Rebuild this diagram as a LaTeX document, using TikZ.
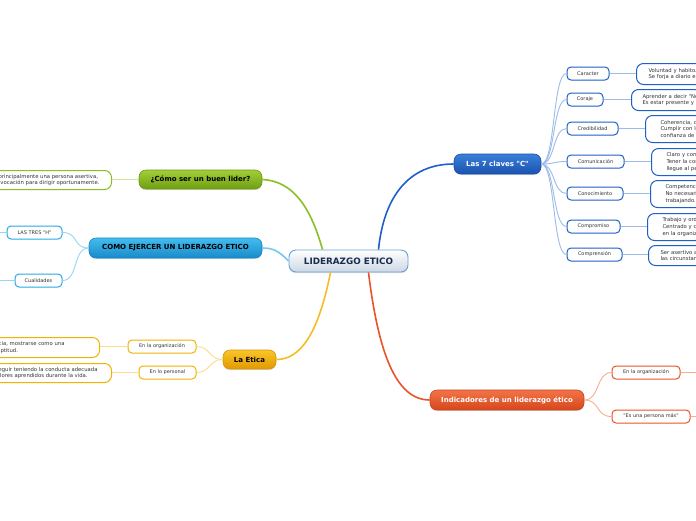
\documentclass[tikz,border=0pt]{standalone}
\usepackage{fontspec}
\setmainfont{DejaVu Sans}[Ligatures=TeXOff]
\usetikzlibrary{shadows}
\definecolor{txt}{HTML}{333333}
\definecolor{bT}{HTML}{3A80DA}\definecolor{bB}{HTML}{1A52AE}\definecolor{bD}{HTML}{1A4FA6}
\definecolor{bC}{HTML}{1F5FC8}\definecolor{bL}{HTML}{9BBCE8}
\definecolor{oT}{HTML}{F27448}\definecolor{oB}{HTML}{D6461C}\definecolor{oD}{HTML}{C9421A}
\definecolor{oC}{HTML}{E8542A}\definecolor{oL}{HTML}{F6AE92}
\definecolor{gT}{HTML}{A2CF38}\definecolor{gB}{HTML}{6F9E12}\definecolor{gD}{HTML}{6A9812}
\definecolor{gC}{HTML}{8CBF26}\definecolor{gL}{HTML}{CDE59A}
\definecolor{cT}{HTML}{42BCEF}\definecolor{cB}{HTML}{1A8ACA}\definecolor{cD}{HTML}{1884C0}
\definecolor{cC}{HTML}{2BA8E2}\definecolor{cL}{HTML}{96D6F4}
\definecolor{yT}{HTML}{F9C52A}\definecolor{yB}{HTML}{E09A00}\definecolor{yD}{HTML}{D69400}
\definecolor{yC}{HTML}{F2B200}\definecolor{yL}{HTML}{F9DE90}
\definecolor{ctrT}{HTML}{FFFFFF}\definecolor{ctrB}{HTML}{CCD7E4}\definecolor{ctrD}{HTML}{6AA0D8}
\definecolor{ctrX}{HTML}{1B2A4E}
\tikzset{
  mainbox/.style={rounded corners=7pt, font=\fontsize{7}{8}\selectfont\bfseries,
    minimum height=20pt, inner sep=0pt, line width=0.6pt,
    drop shadow={opacity=0.25, shadow xshift=0pt, shadow yshift=-1.2pt}},
  childbox/.style={rounded corners=4pt, draw, fill=white, line width=1pt,
    font=\fontsize{5}{6}\selectfont, text=txt, minimum height=13pt, inner sep=0pt},
  leafbox/.style={rounded corners=7pt, draw, fill=white, line width=1pt,
    font=\fontsize{5.3}{6.6}\selectfont, text=txt, inner ysep=0pt},
  trunk/.style={line width=1.6pt},
  twig/.style={line width=0.9pt},
}
\begin{document}
\begin{tikzpicture}[x=1pt,y=-1pt]
\useasboundingbox (0,0) rectangle (696,520);
\fill[white] (0,0) rectangle (696,520);
\clip (0,0) rectangle (696,520);

% ---------- nodes ----------
\node[mainbox, top color=ctrT, bottom color=ctrB, draw=ctrD, line width=0.9pt, text=ctrX,
  font=\fontsize{8.8}{10}\selectfont\bfseries, minimum width=119pt, minimum height=22pt] (c) at (348.5,261) {LIDERAZGO ETICO};

\node[mainbox, top color=bT, bottom color=bB, draw=bD, text=white, minimum width=87pt] (b) at (497.5,164) {Las 7 claves "C"};
\node[mainbox, top color=oT, bottom color=oB, draw=oD, text=white, minimum width=154pt] (o) at (507,400) {Indicadores de un liderazgo ético};
\node[mainbox, top color=gT, bottom color=gB, draw=gD, text=black, minimum width=123pt, minimum height=19pt] (g) at (200.5,179.5) {¿Cómo ser un buen lider?};
\node[mainbox, top color=cT, bottom color=cB, draw=cD, text=black, minimum width=173pt] (k) at (175.5,248) {COMO EJERCER UN LIDERAZGO ETICO};
\node[mainbox, top color=yT, bottom color=yB, draw=yD, text=black, minimum width=53pt, minimum height=19pt] (y) at (249.5,359.5) {La Etica};

% 7 C children
\node[childbox, draw=bC, minimum width=42pt] (b1) at (588,73.5) {Caracter};
\node[childbox, draw=bC, minimum width=36pt] (b2) at (585,99.5) {Coraje};
\node[childbox, draw=bC, minimum width=51pt] (b3) at (592.5,128.5) {Credibilidad};
\node[childbox, draw=bC, minimum width=57pt] (b4) at (595.5,161.5) {Comunicación};
\node[childbox, draw=bC, minimum width=56pt] (b5) at (595,193.5) {Conocimiento};
\node[childbox, draw=bC, minimum width=53pt] (b6) at (593.5,226.5) {Compromiso};
\node[childbox, draw=bC, minimum width=55pt] (b7) at (594.5,254.5) {Comprensión};

% 7 C leaves
\node[leafbox, draw=bC, anchor=north west, minimum height=21pt, text width=110pt, align=left, inner xsep=12pt] (l1) at (636,63) {Voluntad y habito.\\Se forja a diario en la vida.};
\node[leafbox, draw=bC, anchor=north west, minimum height=21pt, text width=110pt, align=left, inner xsep=11pt] (l2) at (631,89) {Aprender a decir "No".\\Es estar presente y actuar.};
\node[leafbox, draw=bC, anchor=north west, minimum height=27pt, text width=110pt, align=left, inner xsep=15pt] (l3) at (645,115) {Coherencia, confianza.\\Cumplir con lo prometido\\confianza de los demás.};
\node[leafbox, draw=bC, anchor=north west, minimum height=27pt, text width=110pt, align=left, inner xsep=15pt] (l4) at (651,148) {Claro y conciso.\\Tener la comunicación\\llegue al personal.};
\node[leafbox, draw=bC, anchor=north west, minimum height=27pt, text width=110pt, align=left, inner xsep=15pt] (l5) at (650,180) {Competencia.\\No necesariamente\\trabajando.};
\node[leafbox, draw=bC, anchor=north west, minimum height=27pt, text width=110pt, align=left, inner xsep=15pt] (l6) at (647,213) {Trabajo y orden.\\Centrado y comprometido\\en la organización.};
\node[leafbox, draw=bC, anchor=north west, minimum height=20pt, text width=110pt, align=left, inner xsep=12pt] (l7) at (648,245) {Ser asertivo ante\\las circunstancias.};

% Indicadores children
\node[childbox, draw=oC, minimum width=68pt] (o1) at (646,372.5) {En la organización};
\node[childbox, draw=oC, minimum width=78pt] (o2) at (651,416.5) {"Es una persona más"};
\coordinate (o1e) at (696,372.5);
\coordinate (o2e) at (696,416.5);

% Cómo leaf
\node[leafbox, draw=gC, anchor=north east, minimum height=19pt, align=center, inner xsep=12pt] (gl) at (112,170) {Es principalmente una persona asertiva,\\con vocación para dirigir oportunamente.};

% Como ejercer children
\node[childbox, draw=cC, minimum width=55pt] (k1) at (34.5,232.5) {LAS TRES "H"};
\node[childbox, draw=cC, minimum width=47pt] (k2) at (38.5,280.5) {Cualidades};
\coordinate (k1e) at (0,232.5);
\coordinate (k2e) at (0,280.5);

% La Etica children
\node[childbox, draw=yC, minimum width=68pt] (y1) at (162,346.5) {En la organización};
\node[childbox, draw=yC, minimum width=57pt] (y2) at (167.5,372.5) {En lo personal};
\node[leafbox, draw=yC, anchor=north east, minimum height=20pt, align=center, inner xsep=35pt] (yl1) at (100,337) {Ser un ejemplo de transparencia, mostrarse como una\\ejercer esa aptitud.};
\node[leafbox, draw=yC, anchor=north east, minimum height=19pt, align=center, inner xsep=14pt] (yl2) at (112,363) {Es importante seguir teniendo la conducta adecuada\\según los valores aprendidos durante la vida.};

% ---------- connectors ----------
\draw[trunk, bC] ([xshift=30pt]c.north) .. controls (384,195) and (410,164) .. (b.west);
\draw[trunk, oC] ([xshift=20pt]c.south) .. controls (378,350) and (395,400) .. (o.west);
\draw[trunk, gC] ([xshift=-26pt]c.north) .. controls (310,205) and (292,181) .. (g.east);
\draw[trunk, cL!70!cC] (c.west) .. controls (278,250) and (272,248) .. (k.east);
\draw[trunk, yC!85!white] ([xshift=-18pt]c.south) .. controls (318,335) and (300,359.5) .. (y.east);

\foreach \n in {b1,b2,b3,b4,b5,b6,b7}
  \draw[twig, bL] (b.east) .. controls +(14,0) and +(-14,0) .. (\n.west);
\foreach \n/\m in {b1/l1,b2/l2,b3/l3,b4/l4,b5/l5,b6/l6,b7/l7}
  \draw[twig, bL] (\n.east) -- (\n.east -| \m.west);

\foreach \n in {o1,o2}
  \draw[twig, oL] (o.east) .. controls +(16,0) and +(-16,0) .. (\n.west);
\draw[twig, oL] (o1.east) -- (o1e);
\draw[twig, oL] (o2.east) -- (o2e);

\draw[twig, gL] (g.west) -- (g.west -| gl.east);

\foreach \n in {k1,k2}
  \draw[twig, cL] (k.west) .. controls +(-16,0) and +(16,0) .. (\n.east);
\draw[twig, cL] (k1.west) -- (k1e);
\draw[twig, cL] (k2.west) -- (k2e);

\foreach \n in {y1,y2}
  \draw[twig, yL] (y.west) .. controls +(-14,0) and +(14,0) .. (\n.east);
\draw[twig, yL] (y1.west) -- (y1.west -| yl1.east);
\draw[twig, yL] (y2.west) -- (y2.west -| yl2.east);
\end{tikzpicture}
\end{document}
